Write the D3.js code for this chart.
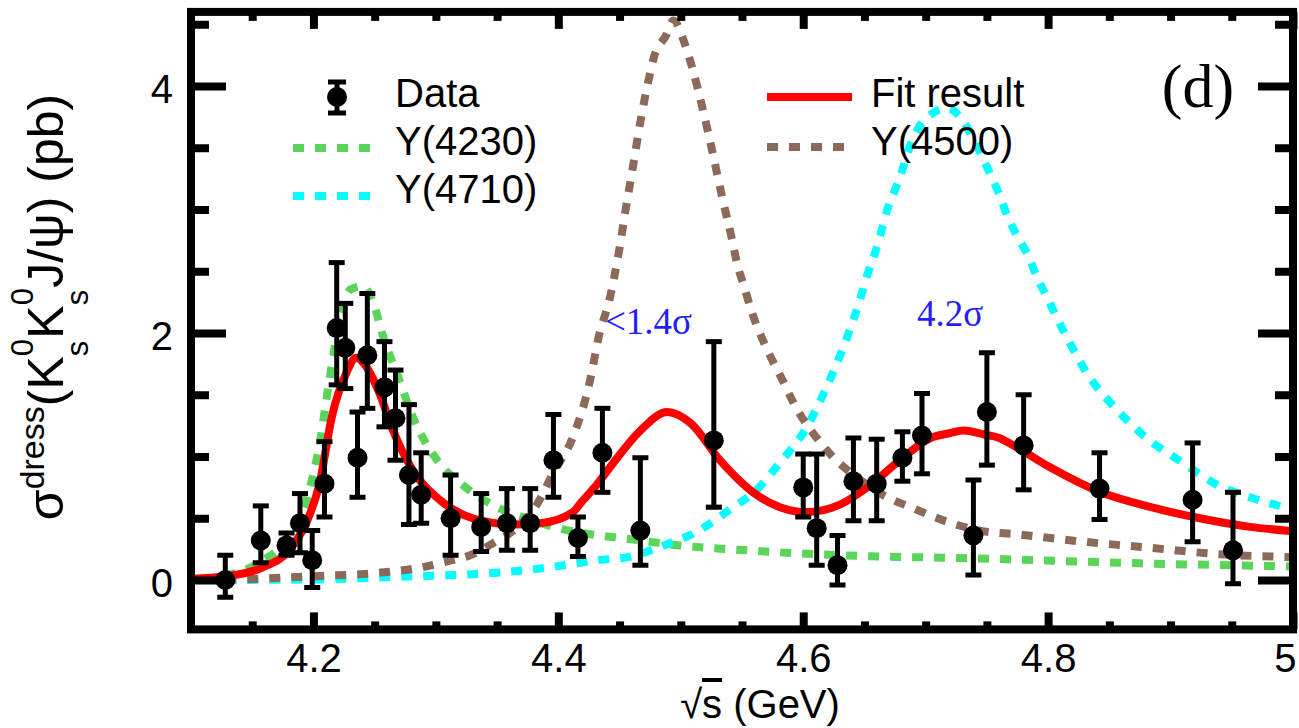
<!DOCTYPE html>
<html><head><meta charset="utf-8">
<script src="https://cdn.jsdelivr.net/npm/d3@7"></script>
<style>body{margin:0;background:#fff;overflow:hidden}</style>
</head><body>
<svg id="chart" width="1299" height="728"></svg>
<script>
// ---- data ----
const energies = [4.128,4.157,4.178,4.189,4.199,4.209,4.219,4.226,4.236,4.244,4.258,4.267,4.278,4.288,4.312,4.337,4.358,4.377,4.396,4.416,4.436,4.467,4.527,4.600,4.611,4.628,4.641,4.660,4.681,4.697,4.739,4.750,4.780,4.842,4.918,4.951];
const xsec     = [0.00,0.32,0.28,0.46,0.16,0.78,2.04,1.88,0.99,1.82,1.56,1.31,0.85,0.69,0.50,0.43,0.46,0.46,0.97,0.34,1.03,0.40,1.13,0.75,0.42,0.12,0.80,0.78,0.99,1.17,0.36,1.36,1.09,0.74,0.65,0.24];
const errHigh  = [0.20,0.60,0.38,0.70,0.40,1.12,2.57,2.24,1.36,2.32,1.93,1.70,1.42,1.03,0.85,0.70,0.74,0.74,1.34,0.51,1.39,0.99,1.93,1.02,1.02,0.36,1.15,1.14,1.20,1.51,0.81,1.84,1.50,1.03,1.11,0.71];
const errLow   = [-0.14,0.14,0.20,0.22,-0.06,0.51,1.58,1.55,0.67,1.39,1.24,0.97,0.45,0.46,0.20,0.23,0.24,0.24,0.67,0.19,0.71,0.12,0.59,0.51,0.12,-0.04,0.48,0.48,0.80,0.86,0.04,0.93,0.73,0.49,0.31,-0.03];

const fitE = [4.100,4.129,4.158,4.180,4.194,4.205,4.215,4.227,4.235,4.243,4.254,4.265,4.281,4.303,4.330,4.363,4.385,4.412,4.418,4.432,4.445,4.467,4.489,4.508,4.532,4.559,4.581,4.603,4.630,4.655,4.679,4.704,4.720,4.731,4.747,4.760,4.775,4.802,4.843,4.884,4.924,4.965,5.000];
const fitV = [0.01,0.03,0.10,0.24,0.46,0.78,1.32,1.68,1.80,1.73,1.51,1.21,0.89,0.65,0.50,0.45,0.46,0.55,0.62,0.78,0.95,1.21,1.36,1.27,0.97,0.71,0.59,0.55,0.61,0.77,0.97,1.15,1.19,1.21,1.18,1.15,1.07,0.91,0.71,0.59,0.50,0.43,0.395];

const y4230E = [4.128,4.159,4.178,4.195,4.205,4.213,4.222,4.230,4.240,4.249,4.257,4.269,4.282,4.301,4.323,4.350,4.377,4.404,4.426,4.459,4.499,4.554,4.608,4.663,4.717,4.758,4.856,5.000];
const y4230V = [0.03,0.16,0.32,0.67,1.10,1.62,2.13,2.35,2.38,2.24,1.97,1.65,1.30,0.97,0.76,0.59,0.49,0.41,0.37,0.33,0.28,0.24,0.21,0.19,0.18,0.17,0.14,0.11];

const y4500E = [4.128,4.200,4.255,4.287,4.309,4.328,4.347,4.363,4.383,4.396,4.412,4.426,4.433,4.442,4.449,4.455,4.461,4.467,4.474,4.478,4.488,4.494,4.503,4.509,4.518,4.526,4.534,4.542,4.546,4.552,4.557,4.568,4.582,4.595,4.608,4.624,4.644,4.663,4.690,4.718,4.744,4.775,4.829,4.884,4.938,5.000];
const y4500V = [0.00,0.03,0.06,0.10,0.15,0.20,0.30,0.40,0.62,0.87,1.16,1.62,1.97,2.28,2.63,3.00,3.35,3.71,4.06,4.23,4.41,4.53,4.35,4.16,3.81,3.46,3.09,2.75,2.56,2.37,2.20,1.92,1.64,1.38,1.19,1.00,0.83,0.70,0.58,0.47,0.40,0.37,0.31,0.26,0.21,0.185];

const y4710E = [4.128,4.200,4.281,4.336,4.391,4.418,4.432,4.459,4.486,4.513,4.540,4.562,4.581,4.603,4.619,4.636,4.647,4.653,4.659,4.664,4.669,4.675,4.681,4.686,4.693,4.704,4.718,4.728,4.738,4.746,4.754,4.761,4.767,4.775,4.784,4.791,4.799,4.815,4.834,4.856,4.883,4.910,4.938,4.965,5.000];
const y4710V = [0.00,0.005,0.03,0.05,0.10,0.14,0.16,0.19,0.28,0.39,0.57,0.73,0.95,1.24,1.56,1.97,2.29,2.49,2.66,2.83,3.01,3.16,3.32,3.48,3.64,3.77,3.82,3.75,3.59,3.43,3.26,3.10,2.94,2.78,2.62,2.45,2.29,1.97,1.64,1.38,1.13,0.95,0.77,0.67,0.57];

const xMajor = [4.2,4.4,4.6,4.8,5.0];
const xLabels = ["4.2","4.4","4.6","4.8","5"];
const xMinor = d3.range(4.15,5.0,0.05).filter(v => !xMajor.some(m => Math.abs(m-v)<1e-6));
const yMajor = [0,2,4];
const yLabels = ["0","2","4"];
const yMinor = [-0.5,0.5,1,1.5,2.5,3,3.5,4.5].filter(v=>v>-0.4);

// ---- setup ----
const svg = d3.select('#chart');
const x = d3.scaleLinear().domain([4.1,5.0]).range([191,1293]);
const y = d3.scaleLinear().domain([-0.4,4.6]).range([629.4,11.9]);
const FONT = "'Liberation Sans', Arial, Helvetica, sans-serif";
const SERIF = "'Liberation Serif', 'Times New Roman', serif";

svg.append('defs').append('clipPath').attr('id','clip')
  .append('rect').attr('x',x(4.1)).attr('y',y(4.6)).attr('width',x(5.0)-x(4.1)).attr('height',y(-0.4)-y(4.6));

const plot = svg.append('g').attr('clip-path','url(#clip)');
const line = d3.line().x(d=>x(d[0])).y(d=>y(d[1])).curve(d3.curveMonotoneX);

function curve(E,V,color,dashed){
  plot.append('path').datum(E.map((e,i)=>[e,V[i]]))
    .attr('d',line).attr('fill','none').attr('stroke',color)
    .attr('stroke-width',8).attr('stroke-dasharray',dashed?'11,11':null);
}
const GREEN = '#5ad55a', CYAN = '#00ffff', BROWN = '#8b6a5a', RED = '#ff0000', BLUE = '#1e1eff';
curve(y4230E,y4230V,GREEN,true);
curve(y4710E,y4710V,CYAN,true);
curve(y4500E,y4500V,BROWN,true);
curve(fitE,fitV,RED,false);

// data points
const pts = energies.map((e,i)=>({e,v:xsec[i],hi:errHigh[i],lo:errLow[i]}));
const gp = plot.append('g');
gp.selectAll('line.bar').data(pts).join('line')
  .attr('x1',d=>x(d.e)).attr('x2',d=>x(d.e)).attr('y1',d=>y(d.hi)).attr('y2',d=>y(d.lo))
  .attr('stroke','#000').attr('stroke-width',5);
gp.selectAll('line.capt').data(pts).join('line')
  .attr('x1',d=>x(d.e)-8).attr('x2',d=>x(d.e)+8).attr('y1',d=>y(d.hi)).attr('y2',d=>y(d.hi))
  .attr('stroke','#000').attr('stroke-width',5);
gp.selectAll('line.capb').data(pts).join('line')
  .attr('x1',d=>x(d.e)-8).attr('x2',d=>x(d.e)+8).attr('y1',d=>y(d.lo)).attr('y2',d=>y(d.lo))
  .attr('stroke','#000').attr('stroke-width',5);
gp.selectAll('circle').data(pts).join('circle')
  .attr('cx',d=>x(d.e)).attr('cy',d=>y(d.v)).attr('r',10).attr('fill','#000');

// ---- axes / ticks ----
function styleAxis(g){ g.select('.domain').remove(); g.selectAll('line').attr('stroke','#000').attr('stroke-width',8); }
const yB = y(-0.4), yT = y(4.6), xL = x(4.1), xR = x(5.0);
svg.append('g').attr('transform',`translate(0,${yB})`).call(d3.axisBottom(x).tickValues(xMajor).tickSize(-17).tickFormat('')).call(styleAxis);
svg.append('g').attr('transform',`translate(0,${yB})`).call(d3.axisBottom(x).tickValues(xMinor).tickSize(-8).tickFormat('')).call(styleAxis);
svg.append('g').attr('transform',`translate(0,${yT})`).call(d3.axisTop(x).tickValues(xMajor).tickSize(-17).tickFormat('')).call(styleAxis);
svg.append('g').attr('transform',`translate(0,${yT})`).call(d3.axisTop(x).tickValues(xMinor).tickSize(-9).tickFormat('')).call(styleAxis);
svg.append('g').attr('transform',`translate(${xL},0)`).call(d3.axisLeft(y).tickValues(yMajor).tickSize(-35).tickFormat('')).call(styleAxis);
svg.append('g').attr('transform',`translate(${xL},0)`).call(d3.axisLeft(y).tickValues(yMinor).tickSize(-18).tickFormat('')).call(styleAxis);
svg.append('g').attr('transform',`translate(${xR},0)`).call(d3.axisRight(y).tickValues(yMajor).tickSize(-35).tickFormat('')).call(styleAxis);
svg.append('g').attr('transform',`translate(${xR},0)`).call(d3.axisRight(y).tickValues(yMinor).tickSize(-18).tickFormat('')).call(styleAxis);

// labels
const xl = svg.append('g').attr('transform',`translate(0,${yB})`)
  .call(d3.axisBottom(x).tickValues(xMajor).tickSize(0).tickPadding(14).tickFormat((d,i)=>xLabels[i]));
xl.select('.domain').remove();
xl.selectAll('text').attr('font-family',FONT).attr('font-size',40).attr('fill','#000');
xl.selectAll('text').filter(d=>d===5.0).attr('text-anchor','end').attr('dx',3);
const yl = svg.append('g').attr('transform',`translate(${xL},0)`)
  .call(d3.axisLeft(y).tickValues(yMajor).tickSize(0).tickPadding(18).tickFormat((d,i)=>yLabels[i]));
yl.select('.domain').remove();
yl.selectAll('text').attr('font-family',FONT).attr('font-size',40).attr('fill','#000').attr('dy','0.42em');

// frame
svg.append('rect').attr('x',xL).attr('y',yT).attr('width',xR-xL).attr('height',yB-yT)
  .attr('fill','none').attr('stroke','#000').attr('stroke-width',8);

// axis titles
const xt = svg.append('text').attr('x',(xL+xR)/2+18).attr('y',718).attr('text-anchor','middle')
  .attr('font-family',FONT).attr('font-size',40);
xt.append('tspan').text('√');
xt.append('tspan').style('text-decoration','overline').text('s');
xt.append('tspan').text(' (GeV)');

const yt = svg.append('text').attr('transform','translate(63,307) rotate(-90)').attr('text-anchor','middle')
  .attr('font-family',FONT).attr('font-size',50);
yt.append('tspan').text('σ');
yt.append('tspan').attr('dy',-19).attr('font-size',34).text('dress');
yt.append('tspan').attr('dy',19).text('(K');
yt.append('tspan').attr('dy',-30).attr('font-size',31).text('0');
yt.append('tspan').attr('dx',-17.2).attr('dy',55).attr('font-size',31).text('s');
yt.append('tspan').attr('dx',2).attr('dy',-25).text('K');
yt.append('tspan').attr('dy',-30).attr('font-size',31).text('0');
yt.append('tspan').attr('dx',-17.2).attr('dy',55).attr('font-size',31).text('s');
yt.append('tspan').attr('dx',2).attr('dy',-25).text('J/ψ) (pb)');

// legend
const lg = svg.append('g');
lg.append('line').attr('x1',337).attr('x2',337).attr('y1',82).attr('y2',113).attr('stroke','#000').attr('stroke-width',5);
lg.append('line').attr('x1',328).attr('x2',346).attr('y1',82).attr('y2',82).attr('stroke','#000').attr('stroke-width',5);
lg.append('line').attr('x1',328).attr('x2',346).attr('y1',113).attr('y2',113).attr('stroke','#000').attr('stroke-width',5);
lg.append('circle').attr('cx',337).attr('cy',97).attr('r',10).attr('fill','#000');
lg.append('line').attr('x1',293).attr('x2',371).attr('y1',148).attr('y2',148).attr('stroke',GREEN).attr('stroke-width',8).attr('stroke-dasharray','11,11');
lg.append('line').attr('x1',293).attr('x2',371).attr('y1',196).attr('y2',196).attr('stroke',CYAN).attr('stroke-width',8).attr('stroke-dasharray','11,11');
lg.append('line').attr('x1',767).attr('x2',852).attr('y1',97).attr('y2',97).attr('stroke',RED).attr('stroke-width',8);
lg.append('line').attr('x1',767).attr('x2',852).attr('y1',147).attr('y2',147).attr('stroke',BROWN).attr('stroke-width',8).attr('stroke-dasharray','11,11');
const legTxt = [['Data',395,107],['Y(4230)',395,155],['Y(4710)',395,203],['Fit result',871,107],['Y(4500)',871,155]];
lg.selectAll('text').data(legTxt).join('text').attr('x',d=>d[1]).attr('y',d=>d[2])
  .attr('font-family',FONT).attr('font-size',40).attr('fill','#000').text(d=>d[0]);

svg.append('text').attr('x',1198).attr('y',107).attr('text-anchor','middle').attr('font-family',SERIF).attr('font-size',62).text('(d)');
svg.append('text').attr('x',605).attr('y',334).attr('font-family',SERIF).attr('font-size',37).attr('fill',BLUE).text('<1.4σ');
svg.append('text').attr('x',917).attr('y',326).attr('font-family',SERIF).attr('font-size',37).attr('fill',BLUE).text('4.2σ');
</script></body></html>
